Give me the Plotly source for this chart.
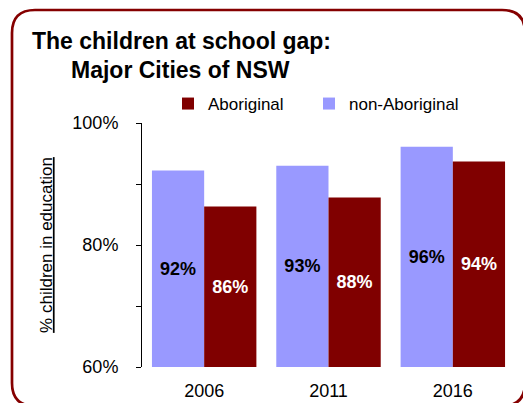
import plotly.graph_objects as go

years = ["2006", "2011", "2016"]
non_aboriginal = [92.2, 93.0, 96.1]
aboriginal = [86.3, 87.8, 93.7]
y_ticks = [60, 80, 100]
y_tick_labels = ["60%", "80%", "100%"]

BASE = 60
FONT = "Liberation Sans, Arial, sans-serif"

fig = go.Figure()
fig.add_trace(go.Bar(
    name="non-Aboriginal", x=years, y=[v - BASE for v in non_aboriginal], base=BASE,
    customdata=non_aboriginal, texttemplate="<b>%{customdata:.0f}%</b>",
    textposition="inside", insidetextanchor="middle", textangle=0,
    textfont=dict(color="black", size=18, family=FONT),
    marker=dict(color="#9999FF", line=dict(width=0)), legend="legend2",
))
fig.add_trace(go.Bar(
    name="Aboriginal", x=years, y=[v - BASE for v in aboriginal], base=BASE,
    customdata=aboriginal, texttemplate="<b>%{customdata:.0f}%</b>",
    textposition="inside", insidetextanchor="middle", textangle=0,
    textfont=dict(color="white", size=18, family=FONT),
    marker=dict(color="#800000", line=dict(width=0)), legend="legend",
))

OFF = 8  # page body margin
W, H = 531 - OFF, 403 - OFF
L, T = 142 - OFF, 123 - OFF
R = W - (515 - OFF)
B = H - (367 - OFF)
pw, ph = W - L - R, H - T - B

def px(x):
    return (x - OFF - L) / pw

def py(y):
    return (H - B - (y - OFF)) / ph

# rounded border
x0, x1, y0, y1 = px(12), px(525), py(10), py(406)
rx, ry = 23 / pw, 23 / ph
path = (f"M {x0+rx},{y0} L {x1-rx},{y0} Q {x1},{y0} {x1},{y0-ry} "
        f"L {x1},{y1+ry} Q {x1},{y1} {x1-rx},{y1} L {x0+rx},{y1} "
        f"Q {x0},{y1} {x0},{y1+ry} L {x0},{y0-ry} Q {x0},{y0} {x0+rx},{y0} Z")
fig.add_shape(type="path", path=path, xref="paper", yref="paper",
              line=dict(color="#850000", width=2.7), layer="below")

fig.add_annotation(text="<b>The children at school gap:</b>", x=px(30), y=py(41),
                   xref="paper", yref="paper", xanchor="left", yanchor="middle",
                   showarrow=False, font=dict(size=23, family=FONT, color="black"))
fig.add_annotation(text="<b>Major Cities of NSW</b>", x=px(69), y=py(70),
                   xref="paper", yref="paper", xanchor="left", yanchor="middle",
                   showarrow=False, font=dict(size=23, family=FONT, color="black"))

legend_style = dict(orientation="h", yanchor="middle", xanchor="left",
                    font=dict(size=17, family=FONT), bgcolor="rgba(0,0,0,0)")

fig.update_layout(
    width=W, height=H,
    margin=dict(l=L, r=R, t=T, b=B, autoexpand=False),
    paper_bgcolor="white", plot_bgcolor="white",
    barmode="group", bargap=0.16, bargroupgap=0,
    font=dict(family=FONT, color="black"),
    showlegend=True,
    legend=dict(x=px(168), y=py(104), **legend_style),
    legend2=dict(x=px(309), y=py(104), **legend_style),
)
fig.update_xaxes(showline=False, ticks="", tickfont=dict(size=18, family=FONT),
                 ticklabelstandoff=11, showgrid=False, zeroline=False)
fig.update_yaxes(range=[60, 100], tickvals=y_ticks, ticktext=y_tick_labels,
                 showline=True, linecolor="black", linewidth=1,
                 ticks="outside", ticklen=5, tickcolor="black", tickwidth=1,
                 minor=dict(dtick=10, tick0=60, ticks="outside", ticklen=5, tickcolor="black", showgrid=False),
                 tickfont=dict(size=18, family=FONT), ticklabelstandoff=14,
                 showgrid=False, zeroline=False,
                 title=dict(text="% children in education", standoff=15,
                            font=dict(size=17, family=FONT, lineposition="under")))

fig.write_html("out.html")
